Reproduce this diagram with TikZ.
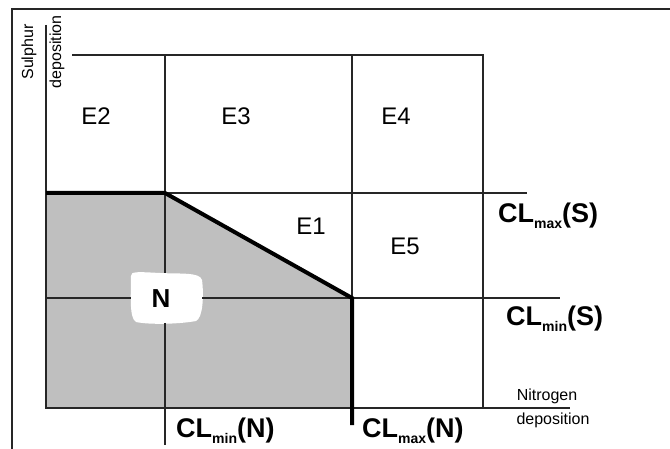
\documentclass[tikz,border=0pt]{standalone}
\usepackage{fontspec}
\setmainfont{Liberation Sans}
\newcommand{\lsub}[1]{\raisebox{-0.4ex}{\fontsize{14}{14}\selectfont #1}}
\begin{document}
\begin{tikzpicture}[x=1pt,y=-1pt,
  thinline/.style={line width=1.5pt,black!85},
  thickline/.style={line width=4pt,black},
  region/.style={font=\fontsize{24}{24}\selectfont},
  cllabel/.style={font=\fontsize{27}{27}\selectfont\bfseries,anchor=west,inner sep=0pt},
  axislabel/.style={font=\fontsize{16}{16}\selectfont,inner sep=0pt}]
\useasboundingbox (0,0) rectangle (670,449);
\fill[white] (0,0) rectangle (670,449);

% outer frame (top and left only)
\coordinate (f0) at (12,449);
\coordinate (f1) at (12,9);
\coordinate (f2) at (670,9);
\draw[thinline] (f0) -- (f1) -- (f2);

% key points of the grid
\coordinate (ya) at (46,25);
\coordinate (bl) at (46,408);
\coordinate (br) at (570,408);
\coordinate (tl) at (72,55);
\coordinate (tr) at (483,55);
\coordinate (rb) at (483,408);
\coordinate (smaxL) at (46,193);
\coordinate (smaxR) at (527,193);
\coordinate (sminL) at (46,298);
\coordinate (sminR) at (560,298);
\coordinate (nminT) at (165,55);
\coordinate (nminB) at (165,445);
\coordinate (nmaxT) at (352,55);
\coordinate (nmaxB) at (352,425);
\coordinate (k1) at (165,193);
\coordinate (k2) at (352,298);

% shaded region below the critical load function
\fill[black!25] (smaxL) -- (k1) -- (k2) -- (352,408) -- (bl) -- cycle;

% white patch behind the N label
\fill[white] (131,276) .. controls (130,271) and (140,272) .. (160,273)
  .. controls (180,274) and (200,272) .. (202,280)
  .. controls (204,295) and (203,318) .. (196,321)
  .. controls (180,324) and (150,325) .. (136,322)
  .. controls (129,318) and (131,295) .. (131,276) -- cycle;

% grid lines
\draw[thinline] (ya) -- (bl) -- (br);
\draw[thinline] (tl) -- (tr) -- (rb);
\draw[thinline] (k1) -- (smaxR);
\draw[thinline] (sminL) -- (131,298);
\draw[thinline] (202,298) -- (sminR);
\draw[thinline] (nminT) -- (165,273);
\draw[thinline] (165,323) -- (nminB);
\draw[thinline] (nmaxT) -- (k2);

% critical load function
\draw[thickline,line join=miter] (smaxL) -- (k1) -- (k2) -- (nmaxB);

% region labels
\node[region] (e2) at (96,116) {E2};
\node[region] (e3) at (236,116) {E3};
\node[region] (e4) at (396,116) {E4};
\node[region] (e1) at (311,226) {E1};
\node[region] (e5) at (405,246) {E5};
\node[font=\fontsize{26}{26}\selectfont\bfseries] (n) at (161,299) {N};

% critical load labels
\node[cllabel] (clmaxs) at (498,216) {CL\lsub{max}(S)};
\node[cllabel] (clmins) at (506,319) {CL\lsub{min}(S)};
\node[cllabel] (clminn) at (176,431) {CL\lsub{min}(N)};
\node[cllabel] (clmaxn) at (362,431) {CL\lsub{max}(N)};

% axis labels
\node[axislabel,rotate=90] (sul) at (29,52) {Sulphur};
\node[axislabel,rotate=90] (sdep) at (57,52) {deposition};
\node[axislabel] (nit) at (547,396) {Nitrogen};
\node[axislabel] (ndep) at (553,420) {deposition};
\end{tikzpicture}
\end{document}
